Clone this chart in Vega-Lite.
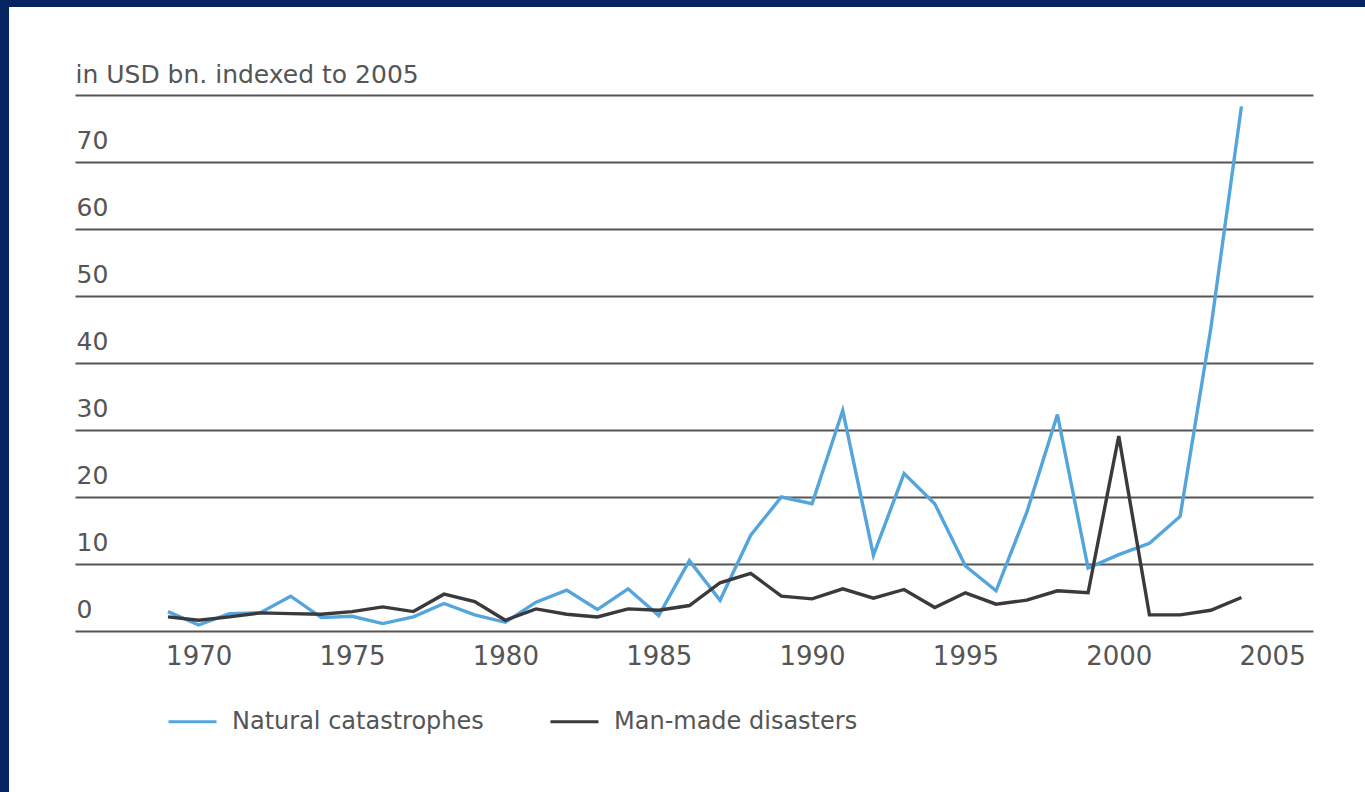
{
  "$schema": "https://vega.github.io/schema/vega-lite/v6.json",
  "width": 1238,
  "height": 536,
  "autosize": {"type": "none"},
  "padding": {"left": 75, "top": 95, "right": 52, "bottom": 161},
  "background": "white",
  "config": {"view": {"stroke": null}, "font": "DejaVu Sans"},
  "datasets": {
    "losses": [
      {"year": 1969, "series": "Natural catastrophes", "value": 2.9},
      {"year": 1970, "series": "Natural catastrophes", "value": 0.9},
      {"year": 1971, "series": "Natural catastrophes", "value": 2.6},
      {"year": 1972, "series": "Natural catastrophes", "value": 2.7},
      {"year": 1973, "series": "Natural catastrophes", "value": 5.2},
      {"year": 1974, "series": "Natural catastrophes", "value": 2.0},
      {"year": 1975, "series": "Natural catastrophes", "value": 2.2},
      {"year": 1976, "series": "Natural catastrophes", "value": 1.1},
      {"year": 1977, "series": "Natural catastrophes", "value": 2.1},
      {"year": 1978, "series": "Natural catastrophes", "value": 4.1},
      {"year": 1979, "series": "Natural catastrophes", "value": 2.4},
      {"year": 1980, "series": "Natural catastrophes", "value": 1.3},
      {"year": 1981, "series": "Natural catastrophes", "value": 4.3},
      {"year": 1982, "series": "Natural catastrophes", "value": 6.1},
      {"year": 1983, "series": "Natural catastrophes", "value": 3.2},
      {"year": 1984, "series": "Natural catastrophes", "value": 6.3},
      {"year": 1985, "series": "Natural catastrophes", "value": 2.3},
      {"year": 1986, "series": "Natural catastrophes", "value": 10.5},
      {"year": 1987, "series": "Natural catastrophes", "value": 4.6},
      {"year": 1988, "series": "Natural catastrophes", "value": 14.3},
      {"year": 1989, "series": "Natural catastrophes", "value": 20.0},
      {"year": 1990, "series": "Natural catastrophes", "value": 19.0},
      {"year": 1991, "series": "Natural catastrophes", "value": 32.9},
      {"year": 1992, "series": "Natural catastrophes", "value": 11.3},
      {"year": 1993, "series": "Natural catastrophes", "value": 23.5},
      {"year": 1994, "series": "Natural catastrophes", "value": 19.0},
      {"year": 1995, "series": "Natural catastrophes", "value": 9.7},
      {"year": 1996, "series": "Natural catastrophes", "value": 6.0},
      {"year": 1997, "series": "Natural catastrophes", "value": 17.7},
      {"year": 1998, "series": "Natural catastrophes", "value": 32.3},
      {"year": 1999, "series": "Natural catastrophes", "value": 9.4},
      {"year": 2000, "series": "Natural catastrophes", "value": 11.4},
      {"year": 2001, "series": "Natural catastrophes", "value": 13.1},
      {"year": 2002, "series": "Natural catastrophes", "value": 17.1},
      {"year": 2003, "series": "Natural catastrophes", "value": 45.1},
      {"year": 2004, "series": "Natural catastrophes", "value": 78.3},
      {"year": 1969, "series": "Man-made disasters", "value": 2.1},
      {"year": 1970, "series": "Man-made disasters", "value": 1.6},
      {"year": 1971, "series": "Man-made disasters", "value": 2.1},
      {"year": 1972, "series": "Man-made disasters", "value": 2.7},
      {"year": 1973, "series": "Man-made disasters", "value": 2.6},
      {"year": 1974, "series": "Man-made disasters", "value": 2.5},
      {"year": 1975, "series": "Man-made disasters", "value": 2.9},
      {"year": 1976, "series": "Man-made disasters", "value": 3.6},
      {"year": 1977, "series": "Man-made disasters", "value": 2.9},
      {"year": 1978, "series": "Man-made disasters", "value": 5.5},
      {"year": 1979, "series": "Man-made disasters", "value": 4.4},
      {"year": 1980, "series": "Man-made disasters", "value": 1.6},
      {"year": 1981, "series": "Man-made disasters", "value": 3.3},
      {"year": 1982, "series": "Man-made disasters", "value": 2.5},
      {"year": 1983, "series": "Man-made disasters", "value": 2.1},
      {"year": 1984, "series": "Man-made disasters", "value": 3.3},
      {"year": 1985, "series": "Man-made disasters", "value": 3.1},
      {"year": 1986, "series": "Man-made disasters", "value": 3.8},
      {"year": 1987, "series": "Man-made disasters", "value": 7.2},
      {"year": 1988, "series": "Man-made disasters", "value": 8.6},
      {"year": 1989, "series": "Man-made disasters", "value": 5.2},
      {"year": 1990, "series": "Man-made disasters", "value": 4.8},
      {"year": 1991, "series": "Man-made disasters", "value": 6.3},
      {"year": 1992, "series": "Man-made disasters", "value": 4.9},
      {"year": 1993, "series": "Man-made disasters", "value": 6.2},
      {"year": 1994, "series": "Man-made disasters", "value": 3.5},
      {"year": 1995, "series": "Man-made disasters", "value": 5.7},
      {"year": 1996, "series": "Man-made disasters", "value": 4.0},
      {"year": 1997, "series": "Man-made disasters", "value": 4.6},
      {"year": 1998, "series": "Man-made disasters", "value": 6.0},
      {"year": 1999, "series": "Man-made disasters", "value": 5.7},
      {"year": 2000, "series": "Man-made disasters", "value": 29.1},
      {"year": 2001, "series": "Man-made disasters", "value": 2.4},
      {"year": 2002, "series": "Man-made disasters", "value": 2.4},
      {"year": 2003, "series": "Man-made disasters", "value": 3.1},
      {"year": 2004, "series": "Man-made disasters", "value": 5.0}
    ]
  },
  "layer": [
    {
      "data": {"name": "losses"},
      "mark": {"type": "line", "strokeWidth": 3.4},
      "encoding": {
        "x": {
          "field": "year",
          "type": "quantitative",
          "scale": {"domain": [1965.968, 2006.333], "nice": false, "zero": false},
          "axis": {
            "values": [1970, 1975, 1980, 1985, 1990, 1995, 2000, 2005],
            "format": "d",
            "grid": false,
            "domain": false,
            "ticks": false,
            "tickSize": 0,
            "labelPadding": 12,
            "labelFont": "DejaVu Sans",
            "labelFontSize": 26,
            "labelColor": "#555555",
            "labelFlush": false,
            "title": null
          }
        },
        "y": {
          "field": "value",
          "type": "quantitative",
          "scale": {"domain": [0, 80], "nice": false, "zero": false},
          "axis": {
            "values": [0, 10, 20, 30, 40, 50, 60, 70, 80],
            "labelExpr": "datum.value == 80 ? '' : datum.label",
            "domain": false,
            "ticks": false,
            "tickSize": 0,
            "grid": true,
            "gridColor": "#555555",
            "gridWidth": 2,
            "gridOpacity": 1,
            "labelAlign": "left",
            "labelBaseline": "alphabetic",
            "labelPadding": -1,
            "labelOffset": -14,
            "labelFont": "DejaVu Sans",
            "labelFontSize": 25,
            "labelColor": "#555555",
            "title": "in USD bn. indexed to 2005",
            "titleAngle": 0,
            "titleAlign": "left",
            "titleBaseline": "alphabetic",
            "titleX": 0,
            "titleY": -13,
            "titleFont": "DejaVu Sans",
            "titleFontSize": 25,
            "titleFontWeight": "normal",
            "titleColor": "#555555"
          }
        },
        "color": {
          "field": "series",
          "type": "nominal",
          "scale": {"domain": ["Natural catastrophes", "Man-made disasters"], "range": ["#55a5dd", "#3a393b"]},
          "legend": {
            "title": null,
            "orient": "none",
            "legendX": 92,
            "legendY": 601,
            "direction": "horizontal",
            "symbolType": "stroke",
            "symbolSize": 2304,
            "symbolStrokeWidth": 3,
            "labelFont": "DejaVu Sans",
            "labelFontSize": 24,
            "labelColor": "#555555",
            "labelLimit": 0,
            "labelOffset": 14,
            "columnPadding": 60,
            "padding": 0
          }
        }
      }
    },
    {
      "data": {"values": [{}]},
      "mark": {"type": "rect", "color": "#06245f"},
      "encoding": {
        "x": {"datum": 1963.2, "type": "quantitative", "scale": {"domain": [1965.968, 2006.333], "nice": false, "zero": false}},
        "x2": {"datum": 1963.816},
        "y": {"datum": 96, "type": "quantitative", "scale": {"domain": [0, 80], "nice": false, "zero": false}},
        "y2": {"datum": -26}
      }
    },
    {
      "data": {"values": [{}]},
      "mark": {"type": "rect", "color": "#06245f"},
      "encoding": {
        "x": {"datum": 1963.2, "type": "quantitative", "scale": {"domain": [1965.968, 2006.333], "nice": false, "zero": false}},
        "x2": {"datum": 2008.6},
        "y": {"datum": 96, "type": "quantitative", "scale": {"domain": [0, 80], "nice": false, "zero": false}},
        "y2": {"datum": 93.13}
      }
    }
  ]
}
